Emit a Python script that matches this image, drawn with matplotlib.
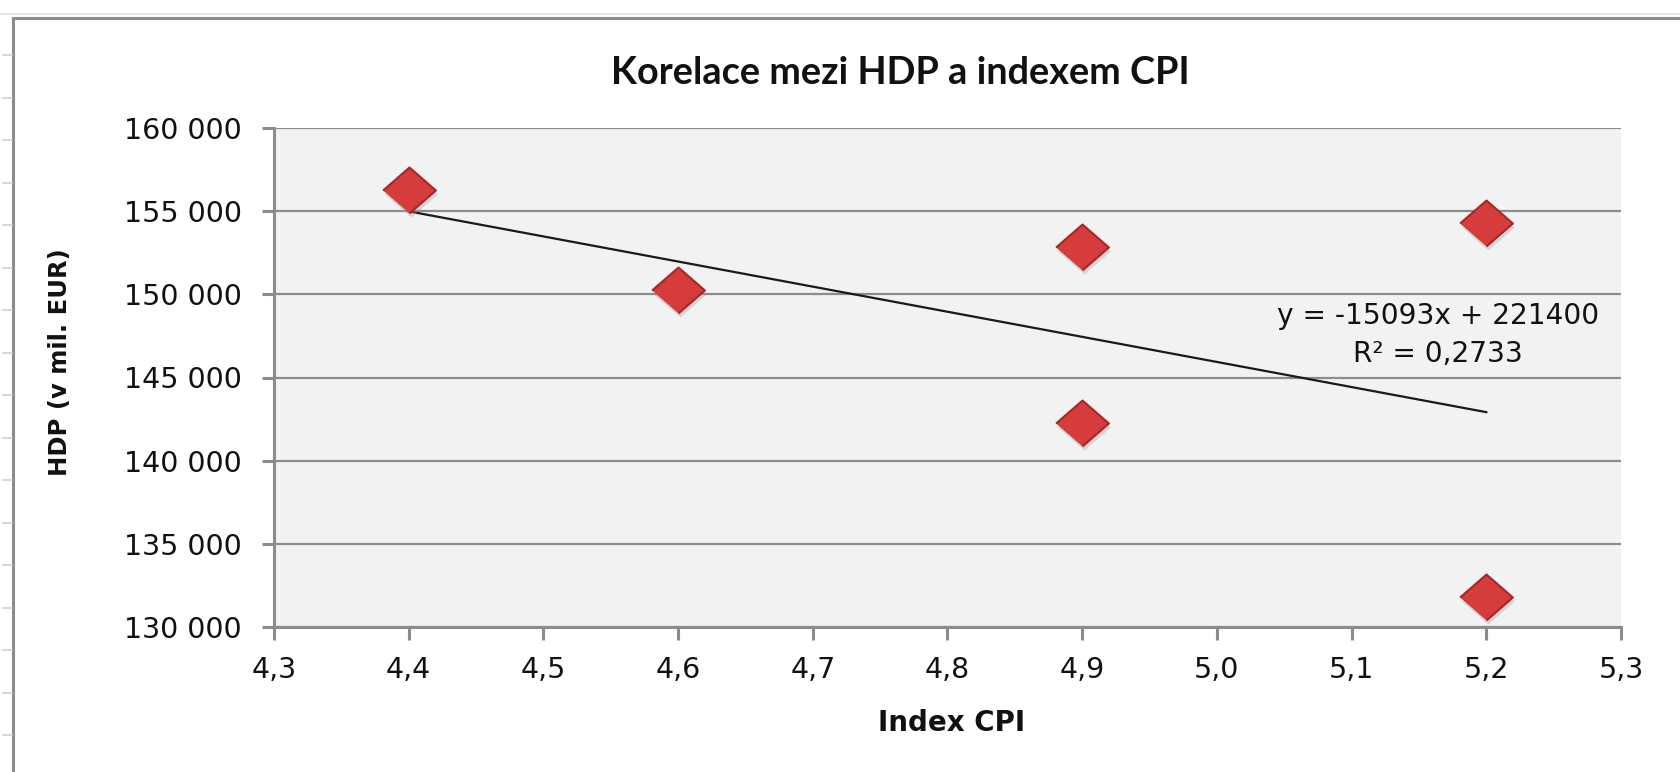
import numpy as np
import matplotlib.pyplot as plt
from matplotlib.ticker import FuncFormatter
from matplotlib.lines import Line2D
from matplotlib.patches import Rectangle
import matplotlib.transforms as mtransforms

# data
cpi = [4.4, 4.6, 4.9, 4.9, 5.2, 5.2]
hdp = [156270, 150260, 152860, 142240, 154270, 131820]
slope = -15093
intercept = 221400
r2 = 0.2733

title = 'Korelace mezi HDP a indexem CPI'
xlab = 'Index CPI'
ylab = 'HDP (v mil. EUR)'

plt.rcParams['font.family'] = ['DejaVu Sans']

W, H = 1680, 772
fig = plt.figure(figsize=(W / 100, H / 100), dpi=100)

# spreadsheet / chart-area frame behind the chart
fig.add_artist(Line2D([0, 1], [1 - 14 / H] * 2, color='#e4e4e4', lw=1.5))
for yy in np.arange(55, H, 42.5):
    fig.add_artist(Line2D([3 / W, 12 / W], [1 - yy / H] * 2, color='#d0d0d0', lw=1.2))
fig.add_artist(Rectangle((13 / W, -0.2), 1.2, 1.2 - 18 / H, transform=fig.transFigure,
                         fill=False, ec='#8c8c8c', lw=2.2))

ax = fig.add_axes([274 / W, 1 - 627 / H, (1621 - 274) / W, (627 - 128) / H])
ax.set_facecolor('#f2f2f2')

ax.set_xlim(4.3, 5.3)
ax.set_ylim(130000, 160000)
ax.set_xticks(np.arange(4.3, 5.31, 0.1))
ax.set_yticks(np.arange(130000, 160001, 5000))
ax.xaxis.set_major_formatter(FuncFormatter(lambda v, p: f'{v:.1f}'.replace('.', ',')))
ax.yaxis.set_major_formatter(FuncFormatter(lambda v, p: f'{int(round(v)):,}'.replace(',', ' ')))

for s in ['top', 'right']:
    ax.spines[s].set_visible(False)
for s in ['left', 'bottom']:
    ax.spines[s].set_color('#8c8c8c')
    ax.spines[s].set_linewidth(2.2)
ax.tick_params(direction='out', length=9, width=2.2, color='#8c8c8c',
               labelsize=20.5, labelcolor='#111111')
ax.tick_params(axis='x', pad=12)
ax.tick_params(axis='y', pad=14)
ax.grid(axis='y', color='#8c8c8c', lw=1.6)
ax.set_axisbelow(True)

# trendline
xs = np.array([min(cpi), max(cpi)])
ax.plot(xs, slope * xs + intercept, color='#1a1a1a', lw=1.6, zorder=3)

# markers with a soft shadow
diamond = [(-1, 0), (0, 0.87), (1, 0), (0, -0.87)]
shadow = mtransforms.offset_copy(ax.transData, fig=fig, x=2, y=-4, units='dots')
ax.plot(cpi, hdp, ls='none', marker=diamond, ms=38, color='#9a9a9a', alpha=0.35,
        mew=0, transform=shadow, zorder=4)
ax.plot(cpi, hdp, ls='none', marker=diamond, ms=38, mfc='#d63c3c', mec='#a82626',
        mew=1.5, zorder=5)

eq = f'y = {slope}x + {intercept}'
r2txt = 'R² = ' + f'{r2:.4f}'.replace('.', ',')
ax.text(0.864, 0.623, eq, transform=ax.transAxes, ha='center', va='center',
        fontsize=20.2, color='#111111')
ax.text(0.864, 0.547, r2txt, transform=ax.transAxes, ha='center', va='center',
        fontsize=20.2, color='#111111')

fig.text(900 / W, 1 - 73 / H, title, ha='center', va='center', fontsize=27.3,
         fontweight='bold', family=['Lato', 'DejaVu Sans'], color='#111111')
fig.text(952 / W, 1 - 723 / H, xlab, ha='center', va='center', fontsize=20,
         fontweight='bold', color='#111111')
fig.text(60 / W, 1 - 362 / H, ylab, ha='center', va='center', fontsize=17.5,
         fontweight='bold', rotation=90, color='#111111')

fig.savefig('out.png', dpi=100)
